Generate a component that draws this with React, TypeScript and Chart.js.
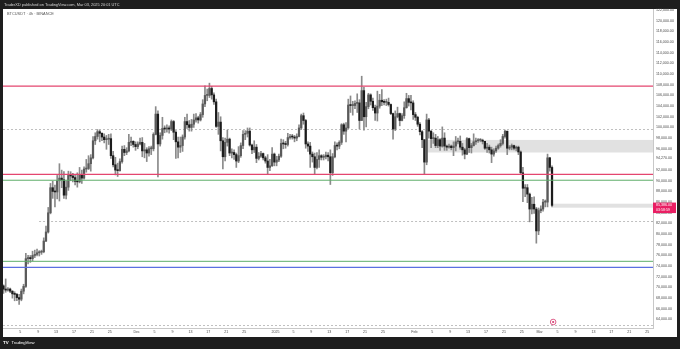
import { useEffect, useRef } from "react";
import { Chart, registerables } from "chart.js";
Chart.register(...registerables);

// ---- 12h candles, Nov 1 2024 -> Mar 3 2025 (BTCUSDT) ----
const firstOpen = 70290;
const closes = [
  // Nov
  69700, 69500, 69700, 69300, 68800, 68700, 68100, 67800, 69300, 70200,
  75400, 75600, 75400, 76000, 76200, 76500, 76600, 76700, 78700, 80400,
  84000, 88700, 88000, 87900, 90000, 90500, 90200, 87300, 88800, 91000,
  90900, 90600, 89900, 89800, 91200, 90500, 92200, 92300, 93200, 94300,
  97500, 98300, 99200, 98900, 98200, 97700, 97800, 97900, 94700, 93000,
  92000, 91900, 93600, 95900, 95300, 95600, 97200, 97400, 96800, 96400,
  // Dec
  96900, 97200, 95600, 95800, 95200, 96000, 96000, 98700, 102500, 96900,
  98500, 99800, 99700, 99900, 99700, 101100, 99100, 97300, 96300, 96600,
  98200, 101100, 100500, 100000, 100600, 101400, 101800, 101400, 102400, 104400,
  106000, 106000, 107300, 106100, 104800, 100200, 101000, 97500, 94500, 97200,
  97800, 95200, 95300, 94900, 93700, 94700, 96600, 98700, 98900, 99300,
  96700, 95800, 96300, 94200, 94600, 95100, 94300, 93700, 92500, 92800,
  95000, 93500,
  // Jan
  93900, 94600, 97000, 96900, 96800, 98100, 98300, 98200, 98000, 98300,
  99900, 102200, 101300, 96900, 96500, 95000, 94500, 92500, 94000, 94700,
  94400, 94500, 94800, 94500, 91500, 94500, 96600, 96500, 97200, 100500,
  99300, 99900, 104200, 104100, 104100, 104500, 104600, 101300, 106900, 102000,
  103900, 106100, 104900, 103700, 102700, 104000, 105100, 104800, 104700, 104700,
  104300, 102600, 99700, 102000, 102600, 101300, 102200, 103700, 105400, 104700,
  104600, 102400,
  // Feb
  101900, 100600, 99200, 97700, 93500, 101400, 99300, 97900, 98000, 96600,
  97700, 96500, 98000, 96500, 96300, 96500, 96200, 96500, 97300, 97400,
  96300, 95800, 95000, 97900, 96200, 96600, 97300, 97500, 97600, 97600,
  97400, 96100, 96300, 95800, 95000, 95600, 96100, 96600, 97000, 98300,
  99300, 96100, 96300, 96600, 96100, 96300, 95400, 91500, 88600, 88700,
  87500, 84700, 85600, 84700, 80600, 84400,
  // Mar
  84700, 86000, 86000, 94300, 92500, 85386,
];
const highs = [
  70500, 71600, 70000, 69900, 69400, 69200, 68900, 68700, 69700, 70600,
  76400, 76000, 76000, 76800, 77000, 77200, 76900, 77000, 79300, 81500,
  85000, 89500, 89900, 89200, 91000, 93200, 92000, 91700, 90000, 91800,
  91700, 91400, 91000, 91500, 92500, 92000, 92600, 94000, 94700, 94900,
  98300, 99000, 99600, 99500, 99000, 98800, 98500, 98700, 98800, 95500,
  94400, 93300, 94100, 96500, 96600, 96200, 98700, 98200, 97500, 97300,
  97300, 98000, 98100, 97000, 96200, 96400, 96500, 99000, 103900, 103100,
  99000, 101900, 100300, 100500, 100300, 101400, 101300, 99400, 98200, 98200,
  98600, 101900, 102500, 101300, 101500, 102500, 102600, 102100, 102800, 105200,
  107800, 107200, 108300, 107700, 106500, 105300, 102800, 102000, 98100, 98000,
  99500, 98000, 96000, 95800, 95200, 96400, 97100, 99400, 99400, 99900,
  99900, 96900, 97500, 96800, 95300, 95500, 95200, 94600, 94900, 94000,
  96200, 95200,
  94600, 95000, 97800, 97700, 97400, 98900, 98700, 98700, 98500, 98800,
  100500, 102500, 102700, 101500, 97300, 97200, 95400, 95200, 95300, 95800,
  94900, 94900, 95400, 95300, 95800, 95100, 97300, 97100, 97500, 100700,
  100800, 100900, 105300, 105900, 104900, 105000, 106300, 105200, 109600, 107500,
  104700, 106400, 106300, 105500, 104200, 106800, 106200, 107100, 105200, 105300,
  105500, 104400, 102700, 103100, 103800, 102700, 102600, 104800, 106400, 106000,
  106000, 105000,
  102800, 102100, 100900, 99400, 97700, 102500, 101700, 99400, 99000, 98700,
  98300, 97900, 100100, 99000, 96700, 96900, 96700, 97300, 98300, 98000,
  98400, 97000, 96100, 98100, 98000, 97000, 98800, 98000, 97900, 97900,
  97800, 97400, 97000, 96700, 96300, 96000, 96500, 96900, 97700, 98700,
  99500, 99300, 96600, 96900, 96700, 96500, 96500, 95600, 92500, 89300,
  89300, 87700, 86900, 87000, 85000, 84900,
  85300, 86500, 86400, 95000, 94400, 92800,
];
const lows = [
  68900, 69100, 69300, 69000, 68000, 67500, 67500, 66800, 67500, 68800,
  70000, 74400, 74700, 75000, 75600, 75900, 75900, 76200, 76500, 78600,
  80200, 83800, 86700, 85100, 86600, 86200, 88700, 86700, 86600, 88200,
  90000, 89800, 89200, 88800, 89600, 89500, 90300, 91600, 92100, 91800,
  94100, 96800, 97800, 97300, 97500, 97100, 95900, 96800, 94200, 92600,
  91100, 90800, 91800, 93300, 94700, 94900, 95400, 96600, 96300, 95700,
  96000, 96700, 94500, 94300, 93600, 94600, 94900, 95600, 98600, 90700,
  96500, 97800, 99000, 99100, 98900, 99400, 97700, 94200, 94300, 95300,
  95500, 97800, 99800, 99300, 99300, 100000, 101000, 100800, 101200, 101900,
  103900, 105000, 105600, 105300, 104300, 100000, 98700, 95600, 92200, 93700,
  96500, 94700, 94300, 94000, 92500, 93400, 94400, 96000, 97700, 98200,
  96500, 95100, 95300, 93400, 93900, 94400, 93900, 93300, 91300, 91900,
  92700, 92800,
  92800, 93600, 94400, 96000, 96100, 96500, 97800, 97800, 97300, 97500,
  98200, 99600, 100600, 96100, 95500, 92500, 93500, 91200, 92200, 92500,
  93900, 93900, 94100, 93700, 89300, 91000, 94300, 95800, 96000, 96800,
  98700, 97300, 99800, 102800, 102300, 103500, 102800, 99700, 101300, 99500,
  100100, 103500, 104200, 103200, 101300, 101200, 103600, 104100, 104200, 104100,
  104000, 102400, 97800, 99400, 101800, 100300, 101200, 101700, 103600, 104000,
  103300, 101500,
  101300, 100200, 98600, 96200, 91200, 93000, 98000, 96200, 97000, 96200,
  96200, 95700, 96300, 95700, 95700, 96100, 95800, 94700, 95600, 96900,
  95900, 94800, 94100, 94900, 95300, 95200, 96500, 96800, 97200, 97300,
  96900, 95900, 95300, 95200, 93400, 94600, 95300, 95900, 96300, 96700,
  98000, 94900, 95800, 95800, 95800, 95600, 94900, 91200, 86100, 87000,
  85900, 82300, 83800, 83900, 78300, 79900,
  84000, 84300, 85100, 85100, 91800, 85100,
];

// x axis: days since Nov 1 2024
const xTickDays = [4, 8, 12, 16, 20, 24, 30, 34, 38, 42, 46, 50, 54, 61, 65, 69, 73, 77, 81, 85, 92, 96, 100, 104, 108, 112, 116, 120, 124, 128, 132, 136, 140, 144];
const xTickLabels = ["5", "9", "13", "17", "21", "25", "Dec", "5", "9", "13", "17", "21", "25", "2025", "5", "9", "13", "17", "21", "25", "Feb", "5", "9", "13", "17", "21", "25", "Mar", "5", "9", "13", "17", "21", "25"];
const yTickValues = [64000, 66000, 68000, 70000, 72000, 74000, 76000, 78000, 80000, 82000, 84000, 86000, 88000, 90000, 92000, 94270, 96000, 98000, 100000, 102000, 104000, 106000, 108000, 110000, 112000, 114000, 116000, 118000, 120000, 122000];

// drawings
const redLevels = [107750, 91200];
const greenLevels = [90100, 74900];
const blueLevels = [73777];
const dashedLevels = [99650, 82400, 63050];
const dashedStartDays = [0, 8.2, 0];
const zoneHigh = [97650, 85700];
const zoneLow = [95300, 84950];
const zoneStartDays = [94.8, 122.9];
const lastPrice = 85386;
const countdown = "03:58:59";
const eventDay = 123;
const headerText = "TraderXD published on TradingView.com, Mar 03, 2025 20:01 UTC";
const symbolText = "BTCUSDT · 4h · BINANCE";

const FONT = "'Liberation Sans', Arial, sans-serif";

export default function App() {
  const ref = useRef<HTMLCanvasElement | null>(null);
  useEffect(() => {
    const canvas = ref.current!;
    const opens = [firstOpen, ...closes.slice(0, -1)];
    const times = closes.map((_, i) => i * 0.5 + 0.25);
    const up = closes.map((c, i) => c >= opens[i]);

    const overlay = {
      id: "overlay",
      beforeDraw(chart: any) {
        const { ctx, width, height } = chart;
        ctx.save();
        ctx.fillStyle = "#1e1e1e";
        ctx.fillRect(0, 0, width, height);
        ctx.fillStyle = "#ffffff";
        ctx.fillRect(3, 9, 674, 328);
        ctx.fillStyle = "#d6d6d6";
        ctx.font = `3.9px ${FONT}`;
        ctx.textBaseline = "middle";
        ctx.fillText(headerText, 4, 4.5);
        ctx.fillStyle = "#ffffff";
        ctx.font = `bold 4.4px ${FONT}`;
        ctx.fillText("TV", 3, 343);
        ctx.font = `4.2px ${FONT}`;
        ctx.fillText("TradingView", 11.5, 343);
        ctx.restore();
      },
      beforeDatasetsDraw(chart: any) {
        const { ctx, chartArea: a, scales } = chart;
        const xs = scales.x, ys = scales.y;
        ctx.save();
        ctx.beginPath();
        ctx.rect(a.left, a.top, a.right - a.left, a.bottom - a.top);
        ctx.clip();
        zoneHigh.forEach((hi, i) => {
          const x0 = xs.getPixelForValue(zoneStartDays[i]);
          const y0 = ys.getPixelForValue(hi);
          const y1 = ys.getPixelForValue(zoneLow[i]);
          ctx.fillStyle = "rgba(200,200,200,0.55)";
          ctx.fillRect(x0, y0, a.right - x0, y1 - y0);
        });
        ctx.strokeStyle = "#b0b0b0";
        ctx.lineWidth = 0.8;
        ctx.setLineDash([2, 2]);
        dashedLevels.forEach((p, i) => {
          const y = Math.round(ys.getPixelForValue(p)) + 0.5;
          const x0 = Math.max(a.left, xs.getPixelForValue(dashedStartDays[i]));
          ctx.beginPath();
          ctx.moveTo(x0, y);
          ctx.lineTo(a.right, y);
          ctx.stroke();
        });
        ctx.restore();
      },
      afterDatasetsDraw(chart: any) {
        const { ctx, chartArea: a, scales } = chart;
        const xs = scales.x, ys = scales.y;
        ctx.save();
        const drawLevels = (levels: number[], color: string, w: number) => {
          ctx.strokeStyle = color;
          ctx.lineWidth = w;
          levels.forEach((p) => {
            const y = ys.getPixelForValue(p);
            ctx.beginPath();
            ctx.moveTo(a.left, y);
            ctx.lineTo(a.right, y);
            ctx.stroke();
          });
        };
        drawLevels(redLevels, "#e4466f", 1.4);
        drawLevels(greenLevels, "#5fae6a", 1);
        drawLevels(blueLevels, "#5b6fe0", 1.2);
        ctx.fillStyle = "#555";
        ctx.font = `3.9px ${FONT}`;
        ctx.textBaseline = "middle";
        ctx.fillText(symbolText, 7, 14);
        // event marker
        const ex = xs.getPixelForValue(eventDay);
        const ey = a.bottom - 6;
        ctx.fillStyle = "#ffffff";
        ctx.strokeStyle = "#d63a6e";
        ctx.lineWidth = 0.8;
        ctx.beginPath();
        ctx.arc(ex, ey, 2.8, 0, Math.PI * 2);
        ctx.fill();
        ctx.stroke();
        ctx.fillStyle = "#d63a6e";
        ctx.beginPath();
        ctx.arc(ex, ey, 1.1, 0, Math.PI * 2);
        ctx.fill();
        ctx.restore();
      },
      afterDraw(chart: any) {
        const { ctx, chartArea: a, scales } = chart;
        const y = scales.y.getPixelForValue(lastPrice);
        ctx.save();
        ctx.fillStyle = "#e91e63";
        ctx.fillRect(a.right, y - 2.8, 23, 10.5);
        ctx.fillStyle = "#ffffff";
        ctx.font = `3.6px ${FONT}`;
        ctx.textBaseline = "middle";
        ctx.fillText(lastPrice.toLocaleString("en-US", { minimumFractionDigits: 2 }), a.right + 3, y);
        ctx.fillText(countdown, a.right + 3, y + 4.8);
        ctx.restore();
      },
    };

    const chart = new Chart(canvas, {
      type: "bar",
      data: {
        datasets: [
          {
            label: "wick",
            data: times.map((t, i) => ({ x: t, y: [lows[i], highs[i]] })) as any,
            backgroundColor: "#8a8a8a",
            barThickness: 1,
            grouped: false,
            order: 2,
          } as any,
          {
            label: "body",
            data: times.map((t, i) => ({ x: t, y: [opens[i], closes[i]] })) as any,
            backgroundColor: up.map((u) => (u ? "#5a5a5a" : "#1c1c1c")),
            barThickness: 1.6,
            minBarLength: 1,
            grouped: false,
            order: 1,
          } as any,
        ],
      },
      options: {
        animation: false,
        responsive: false,
        maintainAspectRatio: false,
        devicePixelRatio: 1,
        layout: { padding: { left: 3, top: 9, right: 3, bottom: 12 } },
        plugins: { legend: { display: false }, tooltip: { enabled: false } },
        scales: {
          x: {
            type: "linear",
            offset: false,
            min: 0.15,
            max: 145.3,
            grid: { display: false, drawTicks: false, tickLength: 0 },
            border: { display: true, color: "#c8c8c8", width: 1 },
            afterBuildTicks: (s: any) => {
              s.ticks = xTickDays.map((v) => ({ value: v }));
            },
            afterFit: (s: any) => {
              s.height = 9;
            },
            ticks: {
              autoSkip: false,
              maxRotation: 0,
              padding: 2,
              color: "#4a4a4a",
              font: { size: 3.6, family: FONT },
              callback: (v: any) => {
                const k = xTickDays.indexOf(Number(v));
                return k >= 0 ? xTickLabels[k] : "";
              },
            },
          },
          y: {
            type: "linear",
            position: "right",
            min: 62400,
            max: 122200,
            grid: { display: false, drawTicks: false, tickLength: 0 },
            border: { display: true, color: "#c8c8c8", width: 1 },
            afterBuildTicks: (s: any) => {
              s.ticks = yTickValues.map((v) => ({ value: v }));
            },
            afterFit: (s: any) => {
              s.width = 24;
            },
            ticks: {
              autoSkip: false,
              padding: 3,
              color: "#4a4a4a",
              font: { size: 3.6, family: FONT },
              callback: (v: any) => Number(v).toLocaleString("en-US", { minimumFractionDigits: 2 }),
            },
          },
        },
      },
      plugins: [overlay],
    } as any);
    return () => chart.destroy();
  }, []);

  return (
    <div style={{ position: "fixed", left: 0, top: 0, width: 680, height: 349, background: "#1e1e1e" }}>
      <canvas ref={ref} width={680} height={349} style={{ width: 680, height: 349, display: "block" }} />
    </div>
  );
}
